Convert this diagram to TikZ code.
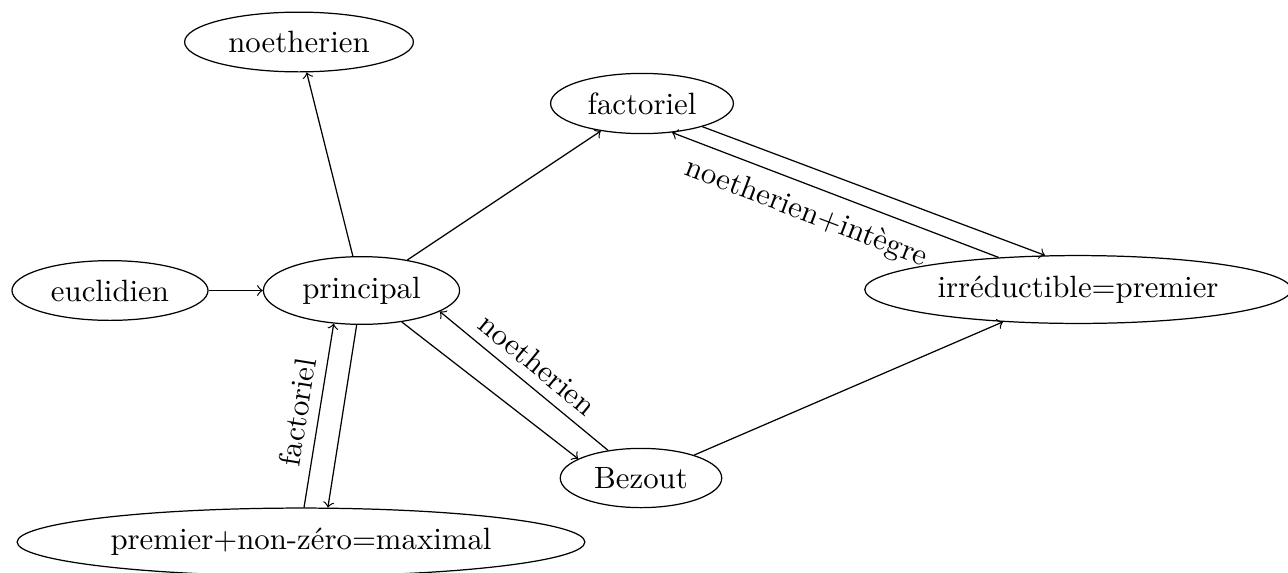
\documentclass[tikz,border=0pt]{standalone}
\usepackage{fontspec}
\usetikzlibrary{shapes.geometric}
\begin{document}
\begin{tikzpicture}[x=0.3247pt,y=-0.3247pt,
  ell/.style={draw, ellipse},
  arr/.style={->},
  lab/.style={midway, sloped}]
\useasboundingbox (0,0) rectangle (1288,572);
\node[ell] (noeth) at (299,42) {noetherien};
\node[ell] (fact) at (642,103.5) {factoriel};
\node[ell] (eucl) at (110,290.5) {euclidien};
\node[ell] (princ) at (361.5,290.5) {principal};
\node[ell] (irr) at (1078,289.5) {irréductible=premier};
\node[ell] (bez) at (641,478) {Bezout};
\node[ell] (max) at (301,542) {premier+non-zéro=maximal};
\draw[arr] (eucl) -- (princ);
\draw[arr] (princ) -- (noeth);
\draw[arr] (princ) -- (fact);
\draw[arr] (fact.-21) -- (irr.134.6);
\draw[arr] (irr.158.6) -- node[lab, below, pos=0.56, yshift=-1pt] {noetherien+intègre} (fact.-44.5);
\draw[arr] (princ.-38.7) -- (bez.163.6);
\draw[arr] (bez.140.1) -- node[lab, above] {noetherien} (princ.-15);
\draw[arr] (bez) -- (irr);
\draw[arr] (princ.-98) -- (max.52);
\draw[arr] (max.85.4) -- node[lab, above] {factoriel} (princ.-130);
\end{tikzpicture}
\end{document}
